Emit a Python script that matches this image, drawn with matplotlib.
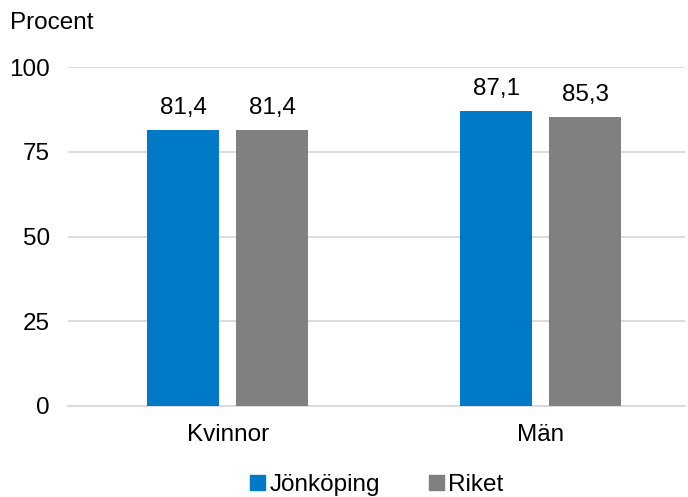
import matplotlib
matplotlib.use("Agg")
import matplotlib.pyplot as plt
import matplotlib.patches as mpatches
import numpy as np

plt.rcParams['font.family'] = ['Liberation Sans', 'DejaVu Sans']

categories = ['Kvinnor', 'Män']
series_names = ['Jönköping', 'Riket']
jonkoping = [81.4, 87.1]
riket = [81.4, 85.3]
yticks = [0, 25, 50, 75, 100]

colors = ['#007AC7', '#808080']
FS = 17.5

fig = plt.figure(figsize=(6.88, 4.97), dpi=100)
W, H = 688, 497
# axes in pixel coordinates: left 68, right 685, top 67, bottom 406
ax = fig.add_axes([68 / W, 1 - 406 / H, (685 - 68) / W, (406 - 67) / H])

x = np.arange(len(categories))
bar_w = 0.23
offset = 0.142

for vals, off, col in zip([jonkoping, riket], [-offset, offset], colors):
    bars = ax.bar(x + off, vals, width=bar_w, color=col, zorder=3)
    for b, v in zip(bars, vals):
        ax.annotate(f'{v:.1f}'.replace('.', ','), (b.get_x() + b.get_width() / 2, v),
                    xytext=(0, 8), textcoords='offset points',
                    ha='center', va='bottom', fontsize=FS, color='#000000')

ax.set_xlim(-0.51, 1.46)
ax.set_ylim(0, 100)
ax.set_yticks(yticks)
ax.set_yticklabels([str(t) for t in yticks], fontsize=FS)
ax.set_xticks(x)
ax.set_xticklabels(categories, fontsize=FS)
ax.tick_params(axis='both', length=0)
ax.tick_params(axis='y', pad=13)
ax.tick_params(axis='x', pad=13)

ax.yaxis.grid(True, color='#D9D9D9', linewidth=1.3, zorder=0)
ax.set_axisbelow(True)
for s in ['top', 'right', 'left']:
    ax.spines[s].set_visible(False)
ax.spines['bottom'].set_color('#D9D9D9')
ax.spines['bottom'].set_linewidth(1.3)

fig.text(10 / W, 1 - 23 / H, 'Procent', fontsize=FS, ha='left', va='center')

handles = [mpatches.Patch(color=c, label=n) for c, n in zip(colors, series_names)]
fig.legend(handles=handles, loc='center', bbox_to_anchor=(377 / W, 1 - 485 / H),
           ncol=2, frameon=False, fontsize=FS, handlelength=0.6, handleheight=0.6,
           handletextpad=0.2, columnspacing=2.0, borderaxespad=0)

fig.savefig('out.png', dpi=100, facecolor='white')
